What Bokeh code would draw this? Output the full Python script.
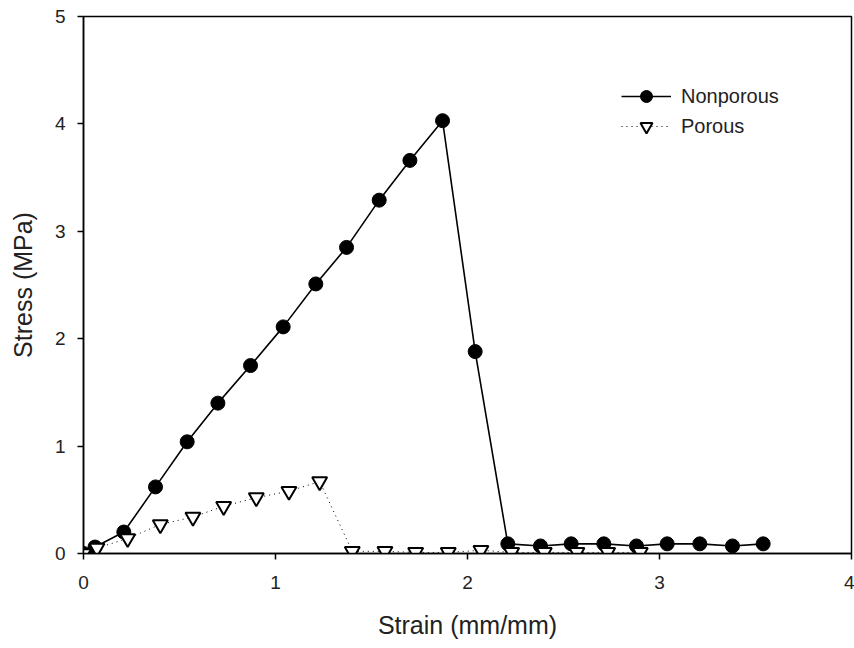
from bokeh.plotting import figure
from bokeh.models import Range1d, FixedTicker, Legend, LegendItem
from bokeh.embed import file_html
from bokeh.resources import INLINE

nonporous_x = [0.0, 0.06, 0.21, 0.375, 0.54, 0.70, 0.87, 1.04, 1.21, 1.37, 1.54, 1.70, 1.87,
               2.04, 2.21, 2.38, 2.54, 2.71, 2.88, 3.04, 3.21, 3.38, 3.54]
nonporous_y = [0.0, 0.06, 0.20, 0.62, 1.04, 1.40, 1.75, 2.11, 2.51, 2.85, 3.29, 3.66, 4.03,
               1.88, 0.09, 0.07, 0.09, 0.09, 0.07, 0.09, 0.09, 0.07, 0.09]
porous_x = [0.0, 0.07, 0.23, 0.40, 0.57, 0.73, 0.90, 1.07, 1.23, 1.40, 1.57, 1.73, 1.90,
            2.07, 2.23, 2.40, 2.57, 2.73, 2.90]
porous_y = [0.0, 0.05, 0.14, 0.27, 0.34, 0.44, 0.52, 0.58, 0.67, 0.02, 0.02, 0.01, 0.01,
            0.03, 0.01, 0.01, 0.01, 0.01, 0.01]
x_ticks = [0, 1, 2, 3, 4]
y_ticks = [0, 1, 2, 3, 4, 5]

FONT = "Liberation Sans"

p = figure(width=854, height=648, output_backend="svg", toolbar_location=None,
           x_range=Range1d(0, 4), y_range=Range1d(0, 5),
           min_border_left=83, min_border_right=3, min_border_top=16, min_border_bottom=95)
p.xgrid.visible = False
p.ygrid.visible = False
p.outline_line_color = "black"
p.outline_line_width = 1.5
p.background_fill_color = "white"
p.border_fill_color = "white"

for ax, ticks in ((p.xaxis, x_ticks), (p.yaxis, y_ticks)):
    ax.ticker = FixedTicker(ticks=ticks)
    ax.minor_tick_line_color = None
    ax.major_tick_in = 0
    ax.major_tick_out = 6
    ax.major_tick_line_width = 1.5
    ax.axis_line_width = 1.5
    ax.axis_line_color = "black"
    ax.major_tick_line_color = "black"
    ax.major_label_text_font = FONT
    ax.major_label_text_font_size = "19px"
    ax.major_label_text_color = "#222222"
    ax.axis_label_text_font = FONT
    ax.axis_label_text_font_size = "25px"
    ax.axis_label_text_font_style = "normal"
    ax.axis_label_text_color = "#222222"

p.xaxis.axis_label = "Strain (mm/mm)"
p.yaxis.axis_label = "Stress (MPa)"
p.xaxis.major_label_standoff = 16
p.yaxis.major_label_standoff = 12
p.xaxis.axis_label_standoff = 19
p.yaxis.axis_label_standoff = 15

l1 = p.line(nonporous_x, nonporous_y, line_color="black", line_width=1.6)
m1 = p.scatter(nonporous_x, nonporous_y, marker="circle", size=14, fill_color="black", line_color="black")
l2 = p.line(porous_x, porous_y, line_color="black", line_width=1, line_dash="1 4")
m2 = p.scatter(porous_x, porous_y, marker="inverted_triangle", size=15, fill_color="white",
               line_color="black", line_width=2)

legend = Legend(items=[LegendItem(label="Nonporous", renderers=[l1, m1]),
                       LegendItem(label="Porous", renderers=[l2, m2])],
                location=(538, 412))
legend.border_line_color = None
legend.background_fill_alpha = 0
legend.label_text_font = FONT
legend.label_text_font_size = "20px"
legend.label_text_color = "#222222"
legend.glyph_width = 50
legend.glyph_height = 30
legend.spacing = -4
legend.label_standoff = 10
p.add_layout(legend, "center")

open("out.html", "w").write(file_html(p, INLINE))
